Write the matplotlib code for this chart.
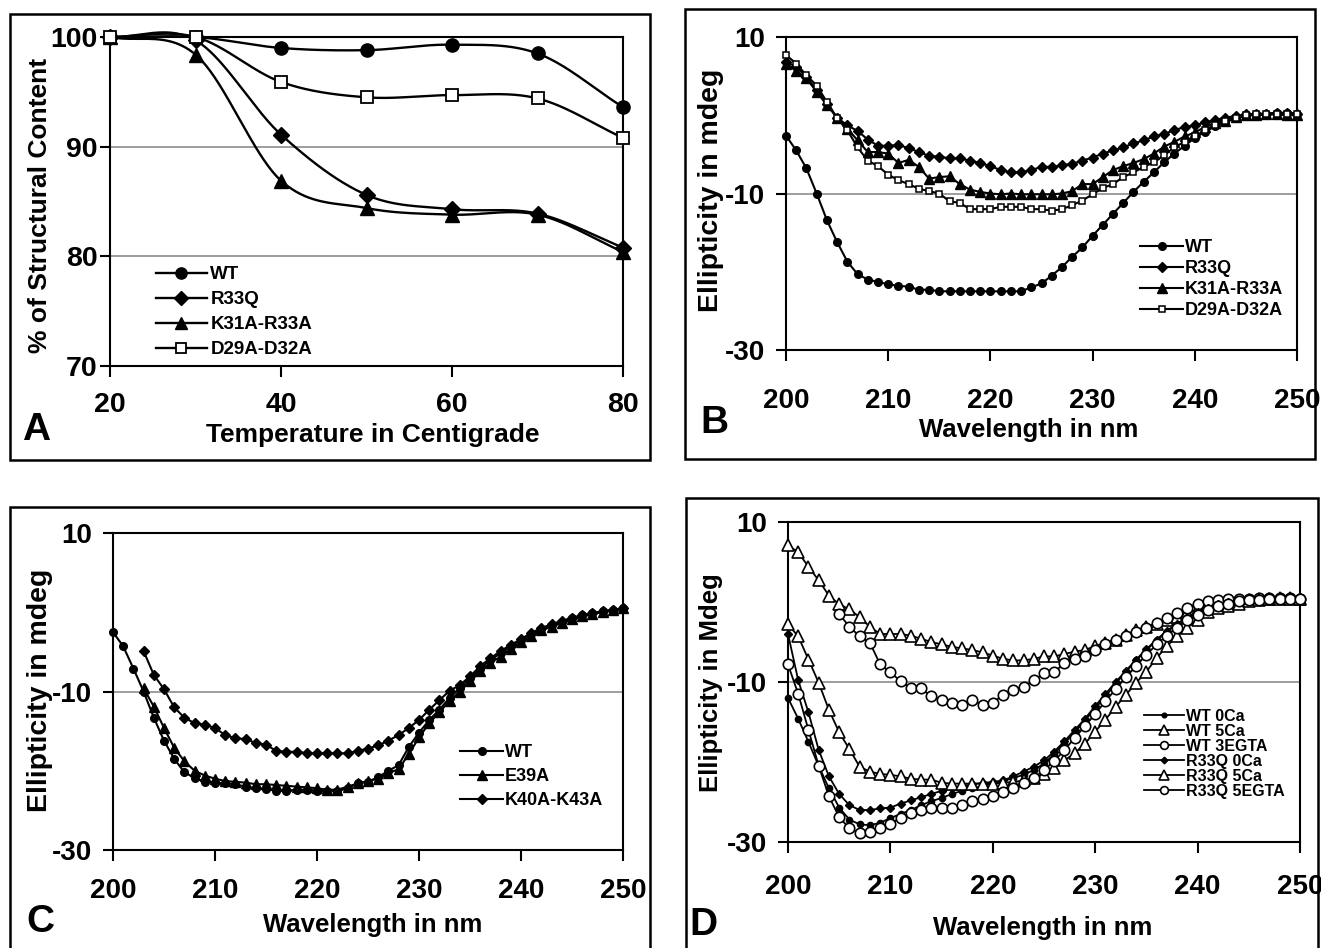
import numpy as np
import matplotlib
matplotlib.use("Agg")
import matplotlib.pyplot as plt
from matplotlib.lines import Line2D
from matplotlib.patches import Rectangle
from matplotlib import font_manager

# ---------------- data ----------------
temp = [20, 30, 40, 50, 60, 70, 80]
a_wt = [100, 100, 99.0, 98.8, 99.3, 98.5, 93.6]
a_r33q = [100, 99.7, 91.1, 85.6, 84.3, 83.9, 80.8]
a_k31a = [100, 98.4, 86.9, 84.4, 83.8, 83.8, 80.4]
a_d29a = [100, 100, 95.9, 94.5, 94.7, 94.4, 90.8]
a_labels = ["WT", "R33Q", "K31A-R33A", "D29A-D32A"]

wl = list(range(200, 251))
wl203 = list(range(203, 251))
wl205 = list(range(205, 251))

b_wt = [-2.6, -4.5, -6.8, -10.0, -13.4, -16.2, -18.7, -20.3, -21.0, -21.3,
        -21.6, -21.8, -21.9, -22.3, -22.3, -22.5, -22.5, -22.5, -22.5, -22.5,
        -22.5, -22.5, -22.5, -22.5, -22.0, -21.5, -20.5, -19.4, -18.1, -16.9,
        -15.4, -14.0, -12.6, -11.2, -9.8, -8.5, -7.3, -6.0, -4.9, -3.9,
        -2.9, -2.1, -1.4, -0.9, -0.4, -0.1, 0.1, 0.2, 0.3, 0.3, 0.2]
b_r33q = [6.8, 6.2, 4.9, 3.2, 1.5, -0.3, -1.3, -2.0, -3.1, -3.9,
          -3.9, -3.8, -4.2, -4.7, -5.2, -5.3, -5.5, -5.5, -5.8, -6.1,
          -6.5, -7.0, -7.3, -7.3, -7.0, -6.6, -6.6, -6.4, -6.2, -5.8,
          -5.4, -4.9, -4.5, -4.1, -3.6, -3.2, -2.7, -2.4, -1.9, -1.5,
          -1.3, -0.9, -0.6, -0.3, -0.1, 0.1, 0.2, 0.2, 0.3, 0.3, 0.2]
b_k31a = [6.6, 5.7, 4.7, 3.0, 1.3, -0.3, -1.7, -3.2, -4.7, -4.7,
          -4.9, -6.1, -5.7, -6.6, -8.1, -7.9, -7.8, -8.8, -9.5, -9.8,
          -10.0, -10.1, -10.0, -10.1, -10.1, -10.1, -10.1, -10.0, -9.7, -8.8,
          -8.8, -7.9, -7.0, -6.5, -6.1, -5.6, -4.9, -4.0, -3.4, -2.7,
          -2.2, -1.5, -1.0, -0.7, -0.2, 0.0, 0.0, 0.1, 0.1, 0.0, 0.0]
b_d29a = [7.7, 6.6, 5.1, 3.8, 1.7, -0.4, -1.9, -4.1, -5.8, -6.5,
          -7.6, -8.3, -8.8, -9.4, -9.7, -10.0, -11.0, -11.2, -12.0, -12.0,
          -12.0, -11.7, -11.7, -11.7, -12.0, -12.0, -12.2, -12.0, -11.5, -10.9,
          -10.1, -9.3, -8.8, -7.9, -7.3, -6.6, -6.0, -5.1, -4.1, -3.4,
          -2.7, -1.9, -1.2, -0.7, -0.3, 0.0, 0.1, 0.1, 0.2, 0.2, 0.2]
b_labels = ["WT", "R33Q", "K31A-R33A", "D29A-D32A"]

c_wt = [-2.5, -4.3, -7.1, -10.0, -13.3, -16.2, -18.5, -20.2, -20.9, -21.4,
        -21.5, -21.6, -21.7, -22.0, -22.2, -22.3, -22.5, -22.5, -22.4, -22.4,
        -22.5, -22.6, -22.6, -22.2, -21.6, -21.4, -20.8, -20.0, -19.3, -17.0,
        -15.2, -13.6, -12.3, -10.8, -9.6, -8.3, -7.1, -6.0, -5.2, -4.3,
        -3.5, -2.8, -2.1, -1.6, -1.2, -0.7, -0.4, -0.1, 0.1, 0.3, 0.5]
c_e39a = [-9.6, -11.9, -14.6, -17.1, -18.8, -20.0, -20.6,
          -21.0, -21.3, -21.4, -21.5, -21.7, -21.7, -21.8, -21.9, -22.0, -22.1,
          -22.2, -22.4, -22.4, -22.0, -21.6, -21.3, -21.0, -20.3, -19.8, -17.9,
          -15.8, -14.0, -12.6, -11.2, -10.0, -8.7, -7.4, -6.4, -5.6, -4.6,
          -3.8, -3.0, -2.3, -1.8, -1.3, -0.9, -0.5, -0.2, 0.0, 0.3, 0.5]
c_k40a = [-4.9, -7.9, -9.7, -12.0, -13.3, -14.0, -14.2,
          -14.6, -15.5, -15.9, -16.0, -16.5, -16.7, -17.5, -17.6, -17.6, -17.8,
          -17.8, -17.8, -17.8, -17.8, -17.5, -17.2, -16.8, -16.2, -15.5, -14.6,
          -13.6, -12.3, -11.1, -9.9, -9.2, -8.1, -6.8, -5.8, -4.9, -4.1,
          -3.4, -2.6, -2.0, -1.5, -1.1, -0.7, -0.4, -0.1, 0.1, 0.3, 0.5]
c_labels = ["WT", "E39A", "K40A-K43A"]

d_wt0 = [-12.0, -14.6, -17.5, -20.5, -23.3, -25.7, -27.2, -27.8, -27.9, -27.6,
         -27.0, -26.5, -26.0, -25.4, -24.9, -24.5, -24.0, -23.6, -23.3, -23.0,
         -22.7, -22.4, -22.0, -21.6, -21.0, -20.2, -19.0, -17.6, -16.3, -14.8,
         -13.3, -11.8, -10.2, -8.7, -7.3, -6.0, -4.8, -3.7, -2.7, -1.9,
         -1.2, -0.7, -0.3, 0.0, 0.2, 0.3, 0.4, 0.4, 0.5, 0.5, 0.5]
d_wt5 = [7.1, 6.2, 4.4, 2.7, 0.8, -0.3, -0.9, -1.9, -3.1, -4.0,
         -4.0, -4.0, -4.2, -4.6, -5.0, -5.3, -5.6, -5.8, -6.0, -6.3,
         -6.7, -7.1, -7.3, -7.3, -7.1, -6.8, -6.8, -6.5, -6.2, -6.0,
         -5.5, -5.1, -4.7, -4.1, -3.5, -3.1, -2.7, -2.2, -1.9, -1.4,
         -0.9, -0.6, -0.3, -0.1, 0.1, 0.2, 0.4, 0.4, 0.5, 0.5, 0.4]
d_wt3egta = [-1.5, -3.1, -4.3, -5.1, -7.8,
             -8.8, -9.9, -10.8, -10.8, -11.8, -12.3, -12.6, -12.9, -12.2, -12.9,
             -12.6, -11.6, -11.0, -10.6, -9.8, -8.9, -8.8, -7.6, -7.1, -6.8,
             -6.0, -5.3, -4.8, -4.3, -3.8, -3.2, -2.6, -2.0, -1.4, -0.7,
             -0.2, 0.1, 0.3, 0.4, 0.4, 0.4, 0.5, 0.5, 0.5, 0.5, 0.4]
d_r0 = [-4.0, -9.8, -13.8, -18.5, -21.8, -24.0, -25.4, -26.0, -26.0, -25.8,
        -25.7, -25.2, -24.8, -24.4, -24.0, -23.6, -23.3, -23.0, -22.8, -22.6,
        -22.5, -22.3, -21.8, -21.2, -20.6, -19.8, -18.7, -17.4, -16.0, -14.6,
        -13.0, -11.5, -10.0, -8.6, -7.2, -5.9, -4.7, -3.6, -2.7, -1.9,
        -1.2, -0.7, -0.3, 0.0, 0.2, 0.3, 0.4, 0.4, 0.5, 0.5, 0.5]
d_r5 = [-2.8, -4.3, -7.2, -10.1, -13.5, -16.3, -18.4, -20.6, -21.2, -21.5,
        -21.6, -21.8, -22.1, -22.2, -22.2, -22.6, -22.7, -22.7, -22.7, -22.7,
        -22.7, -22.6, -22.5, -22.3, -22.0, -21.5, -20.8, -19.8, -18.9, -17.7,
        -16.2, -14.7, -13.1, -11.6, -10.1, -8.7, -7.0, -5.5, -4.3, -3.2,
        -2.2, -1.3, -0.7, -0.5, -0.2, 0.1, 0.3, 0.4, 0.4, 0.4, 0.4]
d_r5egta = [-7.8, -11.5, -16.0, -20.5, -24.3, -26.9, -28.3, -28.9, -28.8, -28.2,
            -27.7, -27.0, -26.4, -26.0, -25.8, -25.7, -25.8, -25.4, -24.9, -24.6,
            -24.3, -23.8, -23.2, -22.6, -22.0, -21.0, -19.9, -18.5, -17.0, -15.5,
            -14.0, -12.4, -10.9, -9.4, -8.0, -6.6, -5.3, -4.2, -3.2, -2.3,
            -1.6, -1.0, -0.5, -0.2, 0.1, 0.2, 0.3, 0.4, 0.4, 0.4, 0.4]
d_labels = ["WT 0Ca", "WT 5Ca", "WT 3EGTA", "R33Q 0Ca", "R33Q 5Ca", "R33Q 5EGTA"]

# ---------------- fonts ----------------
avail = {f.name for f in font_manager.fontManager.ttflist}
BASE = "Liberation Sans" if "Liberation Sans" in avail else "DejaVu Sans"
NARROW = "Liberation Sans Narrow" if "Liberation Sans Narrow" in avail else BASE
plt.rcParams["font.family"] = [BASE, "DejaVu Sans"]
plt.rcParams["axes.unicode_minus"] = False

W, H = 1321, 948
fig = plt.figure(figsize=(W / 100, H / 100), dpi=100)
fig.patch.set_facecolor("white")


def fx(x):
    return x / W


def fy(y):
    return 1 - y / H


def add_ax(l, t, r, b):
    return fig.add_axes([fx(l), fy(b), (r - l) / W, (b - t) / H])


def frame(l, t, r, b):
    fig.add_artist(Rectangle((fx(l), fy(b)), (r - l) / W, (b - t) / H,
                             transform=fig.transFigure, fill=False,
                             lw=1.8, ec="black", clip_on=False))


def style(ax, xt, yt, fam, fs, xpad, ypad, grid_vals):
    ax.set_xticks(xt)
    ax.set_yticks(yt)
    for s in ax.spines.values():
        s.set_linewidth(1.5)
        s.set_color("black")
    ax.tick_params(axis="x", direction="out", length=8, width=1.5, pad=xpad, labelsize=fs)
    ax.tick_params(axis="y", direction="out", length=7, width=1.5, pad=ypad, labelsize=fs)
    for lab in ax.get_xticklabels() + ax.get_yticklabels():
        lab.set_fontweight("bold")
        lab.set_family(fam)
    for g in grid_vals:
        ax.axhline(g, color="#8c8c8c", lw=1.2, zorder=0.5)


def catmull(xs, ys, n=40):
    pts = np.column_stack([xs, ys]).astype(float)
    P = np.vstack([2 * pts[0] - pts[1], pts, 2 * pts[-1] - pts[-2]])
    out = []
    t = np.linspace(0, 1, n, endpoint=False)[:, None]
    for i in range(1, len(P) - 2):
        p0, p1, p2, p3 = P[i - 1], P[i], P[i + 1], P[i + 2]
        seg = 0.5 * ((2 * p1) + (-p0 + p2) * t + (2 * p0 - 5 * p1 + 4 * p2 - p3) * t ** 2
                     + (-p0 + 3 * p1 - 3 * p2 + p3) * t ** 3)
        out.append(seg)
    out.append(pts[-1:])
    return np.vstack(out)


def label(x, y, s, size, fam, rot=0):
    fig.text(fx(x), fy(y), s, ha="center", va="center", fontsize=size,
             fontweight="bold", family=fam, rotation=rot)


# frames
frame(10, 14, 650, 460)
frame(685, 9, 1315, 459)
frame(10, 507, 650, 952)
frame(686, 498, 1318, 952)

# ---------------- Panel A ----------------
axA = add_ax(110, 37, 623, 366)
axA.set_xlim(20, 80)
axA.set_ylim(70, 100)
styles_a = [dict(marker="o", ms=9.5, mfc="black"),
            dict(marker="D", ms=8, mfc="black"),
            dict(marker="^", ms=10.5, mfc="black"),
            dict(marker="s", ms=8.5, mfc="white", mew=1.3)]
handles = []
for ys, st, lab in zip([a_wt, a_r33q, a_k31a, a_d29a], styles_a, a_labels):
    c = catmull(temp, ys)
    axA.plot(c[:, 0], c[:, 1], color="black", lw=1.7, clip_on=False, zorder=3)
    axA.plot(temp, ys, ls="none", color="black", mec="black", clip_on=False, zorder=4, **st)
    hst = dict(st)
    hst["ms"] = st["ms"] * 0.85
    handles.append(Line2D([], [], color="black", lw=1.7, mec="black", **hst))
style(axA, [20, 40, 60, 80], [70, 80, 90, 100], BASE, 20.5, 11, 2, [80, 90])
axA.legend(handles, a_labels, loc="upper left", bbox_to_anchor=(fx(156), fy(266)),
           bbox_transform=fig.transFigure, frameon=False, handlelength=2.7,
           handletextpad=0.2, labelspacing=0.42, borderpad=0, borderaxespad=0,
           prop=dict(family=BASE, weight="bold", size=13.5))
label(40, 205, "% of Structural Content", 19, BASE, 90)
label(373, 435, "Temperature in Centigrade", 19, BASE)
label(36, 430, "A", 28, BASE)

# ---------------- Panel B ----------------
axB = add_ax(786, 37, 1297, 350)
axB.set_xlim(200, 250)
axB.set_ylim(-30, 10)
styles_b = [dict(marker="o", ms=5.5, mfc="black"),
            dict(marker="D", ms=5.5, mfc="black"),
            dict(marker="^", ms=7, mfc="black"),
            dict(marker="s", ms=5, mfc="white", mew=1.1)]
handles = []
for ys, st in zip([b_wt, b_r33q, b_k31a, b_d29a], styles_b):
    axB.plot(wl, ys, color="black", lw=1.5, mec="black", clip_on=False, zorder=3, **st)
    handles.append(Line2D([], [], color="black", lw=1.5, mec="black", **st))
style(axB, [200, 210, 220, 230, 240, 250], [-30, -10, 10], NARROW, 20, 19, 8, [-10])
axB.legend(handles, b_labels, loc="upper left", bbox_to_anchor=(fx(1140), fy(239)),
           bbox_transform=fig.transFigure, frameon=False, handlelength=2.4,
           handletextpad=0.1, labelspacing=0.22, borderpad=0, borderaxespad=0,
           prop=dict(family=NARROW, weight="bold", size=13))
label(711, 190, "Ellipticity in mdeg", 20.5, NARROW, 90)
label(1029, 430, "Wavelength in nm", 18.5, NARROW)
label(714, 423, "B", 28, BASE)

# ---------------- Panel C ----------------
axC = add_ax(113, 533, 623, 850)
axC.set_xlim(200, 250)
axC.set_ylim(-30, 10)
styles_c = [dict(marker="o", ms=5.5, mfc="black"),
            dict(marker="^", ms=7, mfc="black"),
            dict(marker="D", ms=5.5, mfc="black")]
handles = []
for xs, ys, st in zip([wl, wl203, wl203], [c_wt, c_e39a, c_k40a], styles_c):
    axC.plot(xs, ys, color="black", lw=1.5, mec="black", clip_on=False, zorder=3, **st)
    handles.append(Line2D([], [], color="black", lw=1.5, mec="black", **st))
style(axC, [200, 210, 220, 230, 240, 250], [-30, -10, 10], NARROW, 20, 12, 8, [-10])
axC.legend(handles, c_labels, loc="upper left", bbox_to_anchor=(fx(460), fy(744)),
           bbox_transform=fig.transFigure, frameon=False, handlelength=2.4,
           handletextpad=0.1, labelspacing=0.4, borderpad=0, borderaxespad=0,
           prop=dict(family=NARROW, weight="bold", size=13))
label(40, 690, "Ellipticity in mdeg", 20.5, NARROW, 90)
label(373, 925, "Wavelength in nm", 18.5, NARROW)
label(40, 922, "C", 28, BASE)

# ---------------- Panel D ----------------
axD = add_ax(788, 522, 1300, 842)
axD.set_xlim(200, 250)
axD.set_ylim(-30, 10)
styles_d = [dict(marker="o", ms=4.5, mfc="black"),
            dict(marker="^", ms=9, mfc="white", mew=1.2),
            dict(marker="o", ms=7.5, mfc="white", mew=1.2),
            dict(marker="D", ms=4.5, mfc="black"),
            dict(marker="^", ms=9, mfc="white", mew=1.2),
            dict(marker="o", ms=7.5, mfc="white", mew=1.2)]
d_x = [wl, wl, wl205, wl, wl, wl]
d_y = [d_wt0, d_wt5, d_wt3egta, d_r0, d_r5, d_r5egta]
handles = []
for xs, ys, st in zip(d_x, d_y, styles_d):
    axD.plot(xs, ys, color="black", lw=1.3, mec="black", clip_on=False, zorder=3, **st)
    hst = dict(st)
    hst["ms"] = st["ms"] * 0.75
    handles.append(Line2D([], [], color="black", lw=1.3, mec="black", **hst))
style(axD, [200, 210, 220, 230, 240, 250], [-30, -10, 10], NARROW, 20, 15, 8, [-10])
axD.legend(handles, d_labels, loc="upper left", bbox_to_anchor=(fx(1144), fy(709)),
           bbox_transform=fig.transFigure, frameon=False, handlelength=2.5,
           handletextpad=0.1, labelspacing=0.0, borderpad=0, borderaxespad=0,
           prop=dict(family=NARROW, weight="bold", size=11.5))
label(711, 683, "Ellipticity in Mdeg", 18.5, NARROW, 90)
label(1043, 928, "Wavelength in nm", 18.5, NARROW)
label(703, 925, "D", 28, BASE)

fig.savefig("out.png", dpi=100, facecolor="white")
